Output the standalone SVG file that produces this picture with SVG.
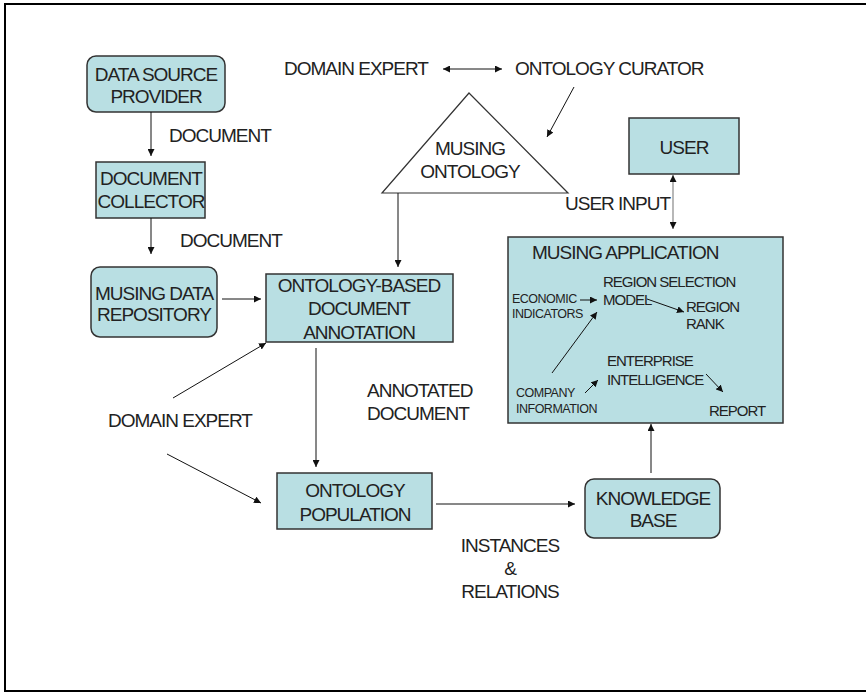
<svg xmlns="http://www.w3.org/2000/svg" width="866" height="693" viewBox="0 0 866 693">
<style>
text{font-family:"Liberation Sans",Arial,sans-serif;fill:#222}
.L{font-size:19px;letter-spacing:-1px}
.M{font-size:15px;letter-spacing:-1px}
.S{font-size:12.5px;letter-spacing:-0.5px}
.c{text-anchor:middle}
.box{fill:#B9DFE3;stroke:#333;stroke-width:1.5}
.tri{fill:#fff;stroke:#333;stroke-width:1.2}
.ln{fill:none;stroke:#111;stroke-width:1}
.arr{marker-end:url(#ah)}
.dbl{marker-end:url(#ah);marker-start:url(#ah)}
</style>
<defs>
<marker id="ah" markerUnits="userSpaceOnUse" markerWidth="8" markerHeight="7" refX="7" refY="3.5" orient="auto-start-reverse">
<path d="M0,0 L7,3.5 L0,7 z" fill="#111"/>
</marker>
</defs>
<rect width="866" height="693" fill="#fff"/>
<path d="M868,4 H5 V691 H868" fill="none" stroke="#000" stroke-width="2"/>

<g id="data-source-provider">
<rect class="box" x="87" y="56" width="138" height="56" rx="9"/>
<text class="L c" x="156" y="81">DATA SOURCE</text>
<text class="L c" x="156" y="103">PROVIDER</text>
</g>
<g id="label-document-1"><text class="L" x="169" y="142">DOCUMENT</text></g>
<g id="document-collector">
<rect class="box" x="96" y="162" width="109" height="56"/>
<text class="L c" x="151" y="185">DOCUMENT</text>
<text class="L c" x="151" y="208">COLLECTOR</text>
</g>
<g id="label-document-2"><text class="L" x="180" y="247">DOCUMENT</text></g>
<g id="musing-data-repository">
<rect class="box" x="91" y="267" width="126" height="70" rx="9"/>
<text class="L c" x="154" y="300">MUSING DATA</text>
<text class="L c" x="154" y="321">REPOSITORY</text>
</g>
<g id="domain-expert-top"><text class="L" x="284" y="75">DOMAIN EXPERT</text></g>
<g id="ontology-curator"><text class="L" x="515" y="75">ONTOLOGY CURATOR</text></g>
<g id="musing-ontology">
<polygon class="tri" points="469,93 568,193 382,193"/>
<text class="L c" x="470" y="155">MUSING</text>
<text class="L c" x="470" y="178">ONTOLOGY</text>
</g>
<g id="obda">
<rect class="box" x="266" y="274" width="187" height="68"/>
<text class="L c" x="359" y="292">ONTOLOGY-BASED</text>
<text class="L c" x="359" y="315">DOCUMENT</text>
<text class="L c" x="359" y="339">ANNOTATION</text>
</g>
<g id="label-annotated"><text class="L" x="367" y="397">ANNOTATED</text><text class="L" x="367" y="420">DOCUMENT</text></g>
<g id="domain-expert-left"><text class="L" x="108" y="427">DOMAIN EXPERT</text></g>
<g id="ontology-population">
<rect class="box" x="277" y="473" width="155" height="56"/>
<text class="L c" x="355" y="497">ONTOLOGY</text>
<text class="L c" x="355" y="521">POPULATION</text>
</g>
<g id="knowledge-base">
<rect class="box" x="585" y="479" width="135" height="59" rx="9"/>
<text class="L c" x="653" y="505">KNOWLEDGE</text>
<text class="L c" x="653" y="527">BASE</text>
</g>
<g id="label-instances">
<text class="L c" x="510" y="552">INSTANCES</text>
<text class="L c" x="510" y="575">&amp;</text>
<text class="L c" x="510" y="598">RELATIONS</text>
</g>
<g id="user">
<rect class="box" x="629" y="118" width="110" height="56"/>
<text class="L c" x="684" y="154">USER</text>
</g>
<g id="label-user-input"><text class="L" x="565" y="210">USER INPUT</text></g>
<g id="musing-application">
<rect class="box" x="508" y="237" width="275" height="186"/>
<text class="L" x="532" y="259">MUSING APPLICATION</text>
<text class="M" x="603" y="287">REGION SELECTION</text>
<text class="M" x="603" y="305">MODEL</text>
<text class="S" x="512" y="303">ECONOMIC</text>
<text class="S" x="512" y="318">INDICATORS</text>
<text class="M" x="686" y="312">REGION</text>
<text class="M" x="686" y="329">RANK</text>
<text class="M" x="607" y="366">ENTERPRISE</text>
<text class="M" x="607" y="385">INTELLIGENCE</text>
<text class="S" x="516" y="397">COMPANY</text>
<text class="S" x="516" y="413">INFORMATION</text>
<text class="M" x="709" y="416">REPORT</text>
</g>

<g id="connectors">
<line class="ln arr" x1="151" y1="112" x2="151" y2="156"/>
<line class="ln arr" x1="151" y1="218" x2="151" y2="254"/>
<line class="ln arr" x1="222" y1="299" x2="261" y2="299"/>
<line class="ln dbl" x1="443" y1="69" x2="502" y2="69"/>
<line class="ln arr" x1="574" y1="87" x2="547" y2="137"/>
<line class="ln arr" x1="398" y1="193" x2="398" y2="267"/>
<line class="ln arr" x1="173" y1="398" x2="266" y2="343"/>
<line class="ln arr" x1="316" y1="348" x2="316" y2="467"/>
<line class="ln arr" x1="167" y1="454" x2="261" y2="503"/>
<line class="ln arr" x1="436" y1="504" x2="575" y2="504"/>
<line class="ln arr" x1="651" y1="473" x2="651" y2="424"/>
<line x1="673" y1="175" x2="673" y2="229" stroke="#888" stroke-width="1.2" marker-start="url(#ah)" marker-end="url(#ah)"/>
<line class="ln arr" x1="580" y1="300" x2="597" y2="300"/>
<line class="ln arr" x1="647" y1="299" x2="684" y2="312"/>
<line class="ln arr" x1="552" y1="373" x2="597" y2="312"/>
<line class="ln arr" x1="585" y1="393" x2="598" y2="380"/>
<line class="ln arr" x1="706" y1="374" x2="723" y2="392"/>
</g>
</svg>
